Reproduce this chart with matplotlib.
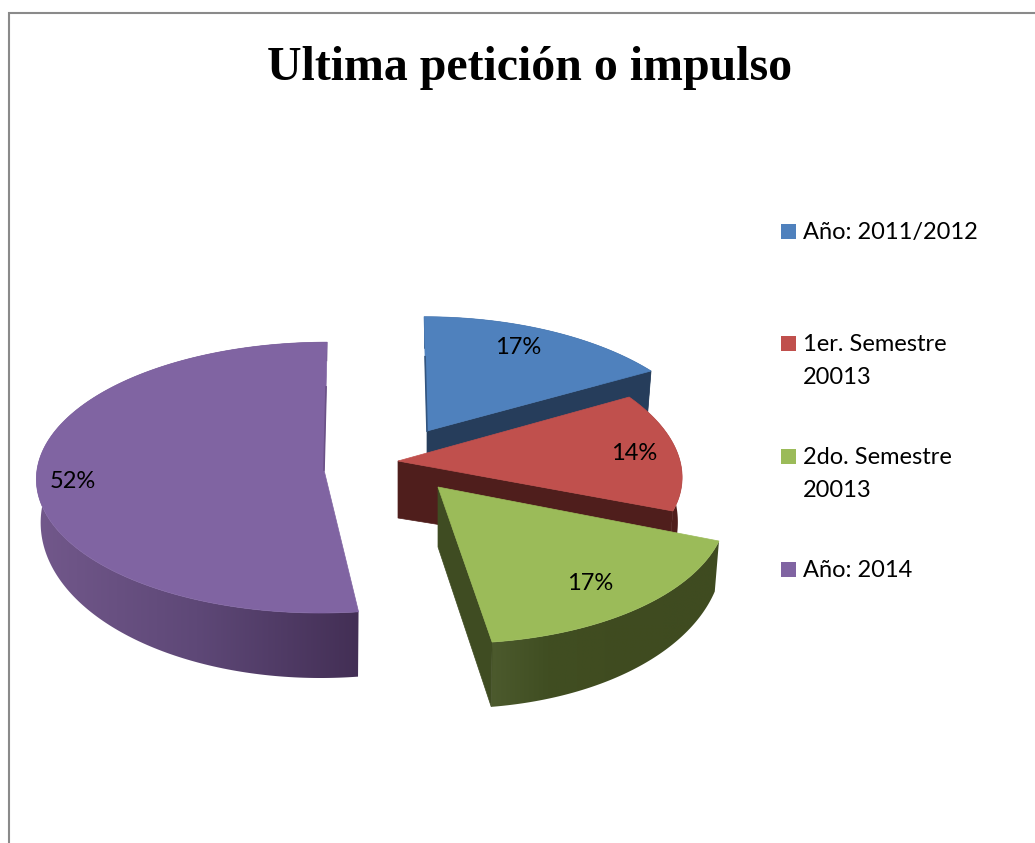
import numpy as np
import matplotlib
matplotlib.use("Agg")
import matplotlib.pyplot as plt
from matplotlib.colors import LinearSegmentedColormap
from matplotlib.patches import Polygon, Rectangle

title = "Ultima petición o impulso"
categories = ["Año: 2011/2012", "1er. Semestre\n20013", "2do. Semestre\n20013", "Año: 2014"]
values = [17, 14, 17, 52]

top_colors = ["#4f81bd", "#c0504d", "#9bbb59", "#8064a2"]
# wall colours from left to right, the reference shades them in vertical bands
wall_colors = [
    ["#263d5b", "#263d5b"],
    ["#4f1e1c", "#4f1e1c"],
    ["#4c5a2d", "#404e22", "#404c20", "#3f4b20", "#3f4b20"],
    ["#72588b", "#5e4877", "#432f55"],
]
face_colors = ["#263d5b", "#4f1e1c", "#3f4c22", None]

# per slice projection, in pixels: apex x, apex y, rx, ry, perspective, shear
geometry = [
    (427, 431, 281, 136, 0.19, 0.026),
    (398, 461, 282, 134.5, 0.027, 0.2),
    (438, 487, 286.5, 141.7, 0.094, 0.0935),
    (324, 470, 287, 135, 0.056, -0.025),
]
# wall height: d0 - dk * cos(angle), and height of the cut face at the apex
depths = [(52, 20, 58), (42, 23, 57), (42, 23, 60), (42, 23, 60)]
label_pos = [(518, 347), (634, 453), (590, 584), (73, 481)]
legend_y = [224, 336, 449, 562]
draw_order = [0, 3, 1, 2]


def rim(g, t):
    ax_, ay, rx, ry, p, sh = g
    s = 1 / (1 + p * np.cos(t))
    dy = -ry * np.cos(t) * s
    dx = rx * np.sin(t) * s + sh * dy
    return ax_ + dx, ay + dy


def base(g, d, t):
    x, y = rim(g, t)
    return g[0] + (x - g[0]) * 0.985, y + d[0] - d[1] * np.cos(t)


fig = plt.figure(figsize=(10.35, 8.43), dpi=100)
ax = fig.add_axes([0, 0, 1, 1])
ax.axis("off")

# chart frame, cut off at the right and bottom of the picture
ax.plot([8.5, 8.5, 1035], [843, 12.5, 12.5], color="#8a8a8a", lw=1.5, solid_joinstyle="miter")

edges = np.radians(np.cumsum([0] + values) * 3.6)
z = 2
for i in draw_order:
    g = geometry[i]
    d = depths[i]
    t = np.linspace(edges[i], edges[i + 1], 200)
    x, y = rim(g, t)
    bx, by = base(g, d, t)

    # outer wall: a horizontal gradient clipped to the wall outline
    outline = np.vstack([np.column_stack([x, y]), np.column_stack([bx, by])[::-1]])
    clip = Polygon(outline, closed=True, transform=ax.transData, fc="none", ec="none")
    ax.add_patch(clip)
    cmap = LinearSegmentedColormap.from_list(f"wall{i}", wall_colors[i])
    im = ax.imshow(np.linspace(0, 1, 256)[None, :], cmap=cmap, aspect="auto", interpolation="bilinear",
                   extent=[outline[:, 0].min(), outline[:, 0].max(), outline[:, 1].max(), outline[:, 1].min()],
                   zorder=z)
    im.set_clip_path(clip)

    # cut face at the end of the slice
    if face_colors[i]:
        face = [(g[0], g[1]), (x[-1], y[-1]), (bx[-1], by[-1]), (g[0], g[1] + d[2])]
        ax.add_patch(Polygon(face, closed=True, fc=face_colors[i], ec=face_colors[i], lw=0.5, zorder=z + 1))

    # top of the slice
    pts = [(g[0], g[1])] + list(zip(x, y))
    ax.add_patch(Polygon(pts, closed=True, fc=top_colors[i], ec=top_colors[i], lw=0.5, zorder=z + 2))
    z += 3

# darker slivers along the back cut of the blue and purple slices
for g, angle, col in [(geometry[0], edges[0], "#33557f"), (geometry[3], edges[4], "#6b5187")]:
    sx, sy = rim(g, angle)
    ax.plot([g[0], g[0] + (sx - g[0]) * 0.65], [g[1], g[1] + (sy - g[1]) * 0.65], color=col, lw=1.2, zorder=z)

for v, (lx, ly) in zip(values, label_pos):
    ax.text(lx, ly, f"{v}%", ha="center", va="center", family="Lato", fontsize=17, color="black", zorder=z + 1)

ax.text(529.5, 80, title, ha="center", va="baseline", family="Liberation Serif",
        fontweight="bold", fontsize=34.5, color="black")

for name, col, ly in zip(categories, top_colors, legend_y):
    ax.add_patch(Rectangle((781, ly), 15, 15, fc=col, ec="none"))
    for n, line in enumerate(name.split("\n")):
        ax.text(803, ly + 15 + n * 33, line, ha="left", va="baseline", family="Lato", fontsize=17, color="black")

ax.set_xlim(0, 1035)
ax.set_ylim(843, 0)

fig.savefig("out.png", dpi=100, facecolor="white")
